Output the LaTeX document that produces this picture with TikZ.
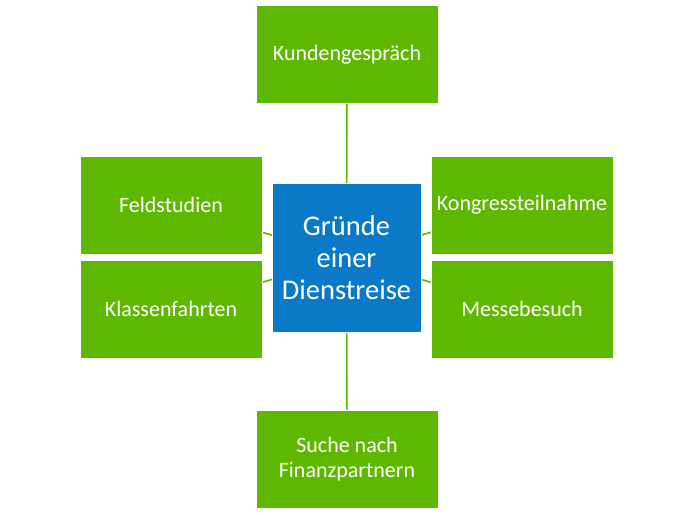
\documentclass[tikz,border=0pt]{standalone}
\usepackage{fontspec}
\setmainfont{Carlito}
\usetikzlibrary{backgrounds}
\definecolor{boxgreen}{RGB}{94,184,0}
\definecolor{boxblue}{RGB}{10,121,199}
\tikzset{
  gbox/.style={fill=boxgreen, draw=white, line width=0.6pt, minimum width=182pt, minimum height=98pt, text=white, font=\fontsize{22}{25}\selectfont, align=center, inner sep=0pt},
  cbox/.style={fill=boxblue, draw=white, line width=0.6pt, minimum width=149pt, minimum height=149pt, text=white, font=\fontsize{28.5}{32}\selectfont, align=center, inner sep=0pt},
  link/.style={draw=boxgreen, line width=1.6pt}
}
\begin{document}
\begin{tikzpicture}[x=1pt,y=-1pt]
\useasboundingbox (0,0) rectangle (700,514);
\node[cbox] (c) at (346.5,257.5) {Gründe\\einer\\Dienstreise};
\node[gbox] (t) at (347,54.5) {Kundengespräch};
\node[gbox] (lt) at (171,205) {Feldstudien};
\node[gbox] (lb) at (171,309) {Klassenfahrten};
\node[gbox] (rt) at (522,205) {Kongressteilnahme};
\node[gbox] (rb) at (522,309) {Messebesuch};
\node[gbox] (b) at (347,459.5) {Suche nach\\Finanzpartnern};
\begin{scope}[on background layer]
\draw[link] (c.center) -- (t.center);
\draw[link] (c.center) -- (b.center);
\draw[link] (c.center) -- (lt.center);
\draw[link] (c.center) -- (lb.center);
\draw[link] (c.center) -- (rt.center);
\draw[link] (c.center) -- (rb.center);
\end{scope}
\end{tikzpicture}
\end{document}
